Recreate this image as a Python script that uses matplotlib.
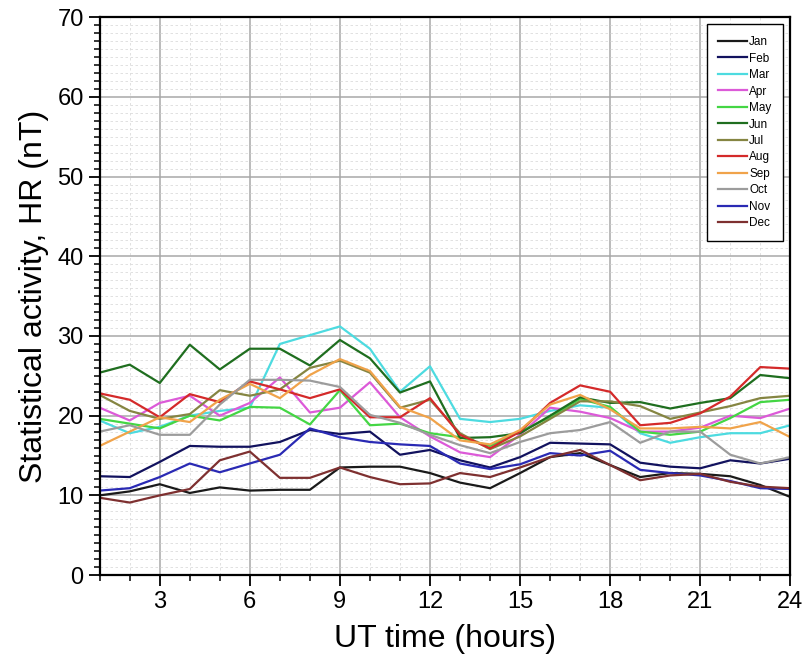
import matplotlib
matplotlib.use("Agg")
import matplotlib.pyplot as plt
import numpy as np
from matplotlib.ticker import MultipleLocator

plt.rcParams['font.family'] = ['Liberation Sans', 'DejaVu Sans']

# UT hours
hours = np.arange(1, 25)

# monthly hourly statistical activity HR (nT)
jan = [10.0, 10.5, 11.4, 10.3, 11.0, 10.6, 10.7, 10.7, 13.5, 13.6, 13.6, 12.8,
       11.6, 10.9, 12.8, 14.8, 15.3, 13.8, 12.3, 12.8, 12.7, 12.4, 11.3, 9.8]
feb = [12.4, 12.3, 14.2, 16.2, 16.1, 16.1, 16.7, 18.2, 17.7, 18.0, 15.1, 15.7,
       14.4, 13.5, 14.8, 16.6, 16.5, 16.4, 14.1, 13.6, 13.4, 14.4, 14.0, 14.6]
mar = [19.4, 17.8, 18.6, 20.0, 20.6, 21.0, 29.0, 30.1, 31.2, 28.4, 23.0, 26.2,
       19.6, 19.2, 19.6, 20.6, 21.3, 21.0, 17.8, 16.6, 17.3, 17.8, 17.8, 18.8]
apr = [21.0, 19.4, 21.6, 22.5, 20.0, 21.6, 24.8, 20.4, 21.0, 24.2, 19.8, 17.4,
       15.4, 14.8, 17.6, 21.0, 20.5, 19.7, 18.0, 18.0, 18.5, 20.0, 19.7, 20.9]
may = [19.6, 19.0, 18.4, 20.0, 19.4, 21.1, 21.0, 18.9, 23.2, 18.8, 19.0, 17.8,
       17.3, 16.2, 18.0, 19.8, 22.1, 21.1, 18.0, 17.6, 18.0, 19.7, 21.7, 22.0]
jun = [25.4, 26.4, 24.1, 28.9, 25.8, 28.4, 28.4, 26.3, 29.5, 27.2, 22.9, 24.3,
       17.2, 17.3, 17.8, 20.0, 22.3, 21.6, 21.7, 20.9, 21.6, 22.2, 25.1, 24.7]
jul = [22.6, 20.6, 19.6, 20.2, 23.2, 22.5, 23.3, 26.0, 26.9, 25.4, 21.0, 22.0,
       17.8, 15.8, 17.4, 19.6, 21.8, 21.8, 21.2, 19.6, 20.4, 21.2, 22.2, 22.5]
aug = [22.8, 22.0, 19.8, 22.7, 21.7, 24.3, 23.3, 22.2, 23.3, 19.8, 19.8, 22.2,
       17.6, 15.9, 18.0, 21.6, 23.8, 23.0, 18.8, 19.1, 20.3, 22.4, 26.1, 25.9]
sep = [16.2, 18.0, 19.8, 19.2, 22.0, 24.0, 22.2, 25.1, 27.1, 25.6, 21.1, 19.7,
       16.9, 16.4, 18.2, 21.4, 22.6, 20.8, 18.4, 18.4, 18.6, 18.4, 19.2, 17.3]
oct_ = [18.0, 18.8, 17.6, 17.6, 21.4, 24.5, 24.5, 24.4, 23.6, 20.1, 19.1, 17.6,
        16.3, 15.3, 16.7, 17.8, 18.2, 19.2, 16.6, 18.0, 18.0, 15.1, 14.0, 14.8]
nov = [10.6, 10.9, 12.3, 14.0, 12.9, 14.0, 15.1, 18.4, 17.3, 16.7, 16.4, 16.2,
       14.0, 13.3, 13.9, 15.3, 15.0, 15.6, 13.2, 12.8, 12.5, 11.8, 10.9, 10.8]
dec = [9.7, 9.1, 10.0, 10.8, 14.4, 15.5, 12.2, 12.2, 13.5, 12.3, 11.4, 11.5,
       12.8, 12.3, 13.5, 14.8, 15.7, 13.8, 11.9, 12.5, 12.7, 11.7, 11.1, 10.9]

months = ['Jan', 'Feb', 'Mar', 'Apr', 'May', 'Jun',
          'Jul', 'Aug', 'Sep', 'Oct', 'Nov', 'Dec']
series = [jan, feb, mar, apr, may, jun, jul, aug, sep, oct_, nov, dec]
colors = ['#1a1a1a', '#12125e', '#4ddbe0', '#dc5ad8', '#44d644', '#1f6e1f',
          '#858542', '#d42a2a', '#f0a34a', '#9c9c9c', '#2a2ab4', '#7e3030']

fig = plt.figure(figsize=(8.04, 6.61), dpi=100)
ax = fig.add_axes([0.124, 0.130, 0.859, 0.844])

for name, vals, c in zip(months, series, colors):
    ax.plot(hours, vals, color=c, lw=1.6, label=name)

ax.set_xlim(1, 24)
ax.set_ylim(0, 70)
ax.xaxis.set_major_locator(MultipleLocator(3))
ax.xaxis.set_minor_locator(MultipleLocator(1))
ax.yaxis.set_major_locator(MultipleLocator(10))
ax.yaxis.set_minor_locator(MultipleLocator(1))

ax.grid(which='major', color='#a8a8a8', lw=1.1, ls='-')
ax.grid(which='minor', color='#dcdcdc', lw=0.6, ls=(0, (3, 3)))
ax.set_axisbelow(True)

ax.tick_params(which='major', direction='out', length=8, width=1.3,
               labelsize=17, top=False, right=False)
ax.tick_params(which='minor', direction='out', length=4, width=1.1,
               top=False, right=False)
for s in ax.spines.values():
    s.set_linewidth(1.6)

ax.set_xlabel('UT time (hours)', fontsize=23, labelpad=8)
ax.set_ylabel('Statistical activity, HR (nT)', fontsize=23, labelpad=6)

leg = ax.legend(loc='upper right', fontsize=8.5, labelspacing=0.38,
                handlelength=2.4, handletextpad=0.2, borderpad=1.0,
                fancybox=False, framealpha=1, edgecolor='black',
                borderaxespad=0.6)
leg.get_frame().set_linewidth(1.0)

fig.savefig('out.png', dpi=100)
